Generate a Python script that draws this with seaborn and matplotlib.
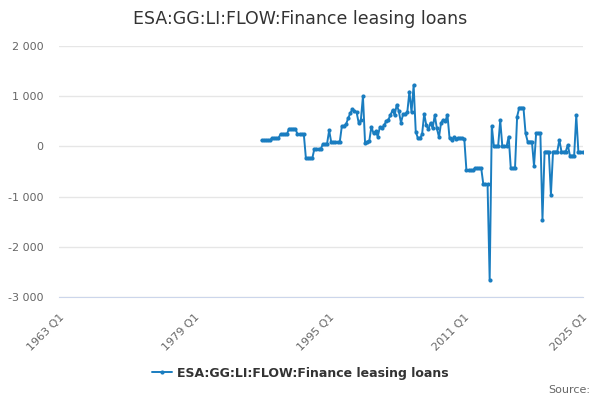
import pandas as pd
import numpy as np
import seaborn as sns
import matplotlib.pyplot as plt
from matplotlib.ticker import FuncFormatter

# Quarterly values, 1987 Q1 .. 2025 Q1
vals_1987_1996 = [120, 120, 120, 120, 120, 165, 165, 165, 165, 245,
                  245, 245, 245, 350, 350, 350, 350, 245, 245, 245,
                  245, -240, -240, -240, -240, -50, -50, -50, -50, 40,
                  40, 50, 320, 80, 80, 80, 80, 80]
vals_1996_2011 = [400, 410, 440, 560, 660, 740, 710, 680, 465, 520,
                  1000, 75, 95, 110, 390, 260, 300, 195, 380, 370,
                  420, 500, 530, 620, 720, 620, 830, 700, 470, 640,
                  650, 680, 1090, 680, 1220, 295, 165, 165, 240, 650,
                  420, 340, 470, 360, 620, 360, 185, 470, 530, 500,
                  630, 165, 130, 180, 150, 170, 170, 160, 140]
vals_2011_2025 = [-480, -480, -480, -480, -435, -435, -435, -435, -755, -755,
                  -755, -2660, 410, 0, 0, 0, 520, 0, 0, 0,
                  195, -435, -435, -435, 595, 770, 770, 770, 260, 95,
                  95, 95, -390, 265, 265, 265, -1460, -105, -105, -105,
                  -960, -105, -105, -105, 130, -105, -105, -105, 30, -185,
                  -185, -185, 620, -110, -110, -110]

values = vals_1987_1996 + vals_1996_2011 + vals_2011_2025
periods = pd.period_range('1987Q1', periods=len(values), freq='Q')

df = pd.DataFrame({
    'period': periods,
    'x': periods.year + (periods.quarter - 1) / 4.0,
    'value': values,
})

series_name = 'ESA:GG:LI:FLOW:Finance leasing loans'
line_color = '#1a7dc0'

sns.set_style('white')
plt.rcParams['font.family'] = ['DejaVu Sans']

fig = plt.figure(figsize=(6, 4), dpi=100)
ax = fig.add_axes([0.098, 0.2575, 0.873, 0.6275])

sns.lineplot(data=df, x='x', y='value', ax=ax, color=line_color,
             linewidth=1.4, marker='o', markersize=3, markeredgewidth=0,
             label=series_name, legend=False)

ax.set_xlim(1963, 2025)
ax.set_ylim(-3000, 2000)

# y axis: gridlines, thousands with a space
ax.set_yticks([-3000, -2000, -1000, 0, 1000, 2000])
ax.yaxis.set_major_formatter(FuncFormatter(lambda v, p: f'{int(v):,}'.replace(',', ' ')))
ax.grid(axis='y', color='#e6e6e6', linewidth=1)
ax.grid(axis='x', visible=False)
ax.tick_params(axis='y', length=0, labelsize=8, labelcolor='#666666', pad=11)

# x axis ticks every 4 years, labels every 16 years
tick_years = list(range(1963, 2024, 4)) + [2025]
label_years = [1963, 1979, 1995, 2011, 2025]
ax.set_xticks(tick_years)
ax.set_xticklabels([f'{y} Q1' if y in label_years else '' for y in tick_years])
ax.tick_params(axis='x', length=8, color='#ccd6eb', labelsize=8,
               labelcolor='#666666', pad=3)
for lbl in ax.get_xticklabels():
    lbl.set_rotation(45)
    lbl.set_ha('right')
    lbl.set_rotation_mode('anchor')

for s in ['top', 'right', 'left']:
    ax.spines[s].set_visible(False)
ax.spines['bottom'].set_color('#ccd6eb')
ax.set_xlabel('')
ax.set_ylabel('')

fig.suptitle(series_name, x=0.5, y=0.975, fontsize=12.5, color='#333333')

handles, labels = ax.get_legend_handles_labels()
leg = fig.legend(handles, labels, loc='center', bbox_to_anchor=(0.5, 0.067),
                 frameon=False, prop={'size': 9, 'weight': 'bold'},
                 handlelength=1.6, handletextpad=0.4)
for t in leg.get_texts():
    t.set_color('#333333')

fig.text(0.983, 0.025, 'Source:', ha='right', va='center', fontsize=8, color='#666666')

fig.savefig('out.png', dpi=100)
